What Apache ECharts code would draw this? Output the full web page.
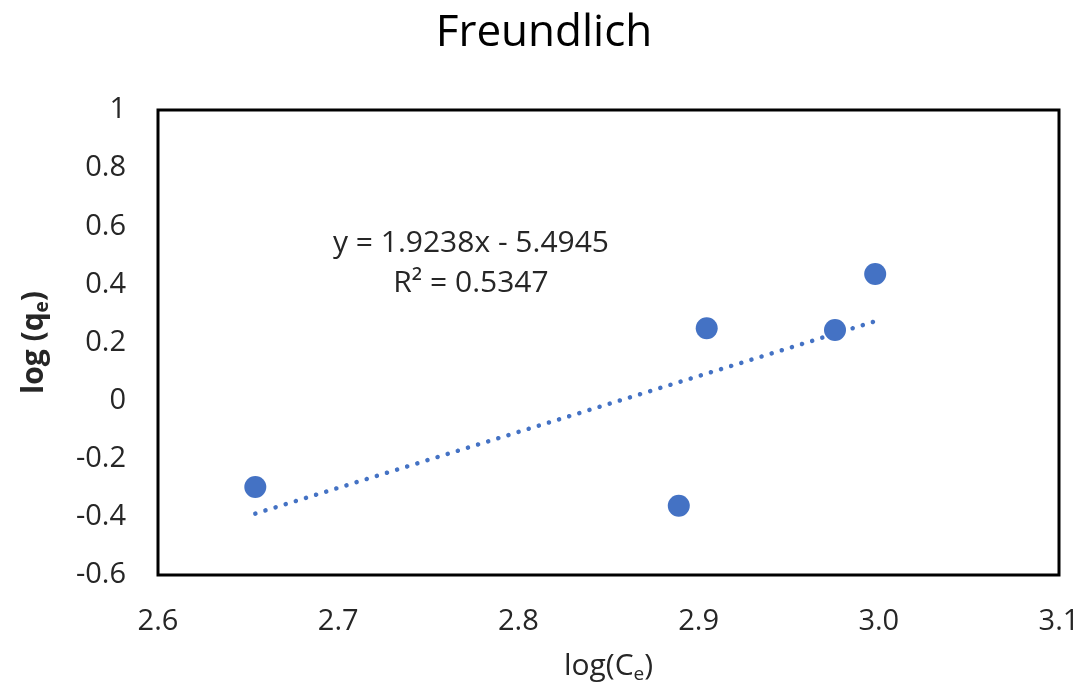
<!DOCTYPE html>
<html>
<head>
<meta charset="utf-8">
<script src="https://cdn.jsdelivr.net/npm/echarts@6/dist/echarts.min.js"></script>
<style>
  html, body { margin: 0; padding: 0; background: #fff; }
  #chart { width: 1088px; height: 697px; }
</style>
</head>
<body>
<div id="chart"></div>
<script>
// Freundlich isotherm: log(Ce) vs log(qe)
const logCe = [2.654, 2.889, 2.9045, 2.9757, 2.998];
const logQe = [-0.297, -0.362, 0.249, 0.243, 0.436];

// Linear fit reported on the chart
const slope = 1.9238;
const intercept = -5.4945;
const rSquared = 0.5347;

const xTicks = [2.6, 2.7, 2.8, 2.9, 3.0, 3.1];
const yTicks = [-0.6, -0.4, -0.2, 0, 0.2, 0.4, 0.6, 0.8, 1];

const FONT = '"Open Sans", "Liberation Sans", sans-serif';
const TEXT = '#262626';
const BLUE = '#4472C4';

const points = logCe.map((x, i) => [x, logQe[i]]);
const xMin = Math.min(...logCe), xMax = Math.max(...logCe);
const fitLine = [xMin, xMax].map(x => [x, slope * x + intercept]);

const chart = echarts.init(document.getElementById('chart'));
chart.setOption({
  backgroundColor: '#fff',
  animation: false,
  title: {
    text: 'Freundlich',
    left: 'center',
    top: 6,
    textStyle: { fontFamily: FONT, fontSize: 44, fontWeight: 'normal', color: '#000' }
  },
  grid: {
    left: 158, right: 29, top: 110, bottom: 122,
    outerBoundsMode: 'none',
    containLabel: false,
    show: true, borderColor: '#000', borderWidth: 3
  },
  xAxis: {
    type: 'value',
    min: xTicks[0], max: xTicks[xTicks.length - 1], interval: 0.1,
    axisLine: { show: false },
    axisTick: { show: false },
    splitLine: { show: false },
    axisLabel: {
      margin: 32, fontFamily: FONT, fontSize: 29, color: TEXT,
      formatter: v => v.toFixed(1)
    },
    name: '{a|log(C}{s|e}{a|)}',
    nameLocation: 'middle',
    nameGap: 74,
    nameTextStyle: {
      rich: {
        a: { fontFamily: FONT, fontSize: 30, color: TEXT },
        s: { fontFamily: FONT, fontSize: 19, color: TEXT, verticalAlign: 'bottom', padding: [16, 0, 0, 0] }
      }
    }
  },
  yAxis: {
    type: 'value',
    min: yTicks[0], max: yTicks[yTicks.length - 1], interval: 0.2,
    axisLine: { show: false },
    axisTick: { show: false },
    splitLine: { show: false },
    axisLabel: {
      margin: 32, fontFamily: FONT, fontSize: 29, color: TEXT,
      formatter: v => String(Math.round(v * 10) / 10)
    },
    name: '{a|log (q}{s|e}{a|)}',
    nameLocation: 'middle',
    nameGap: 106,
    nameTextStyle: {
      rich: {
        a: { fontFamily: FONT, fontSize: 30, fontWeight: 'bold', color: TEXT },
        s: { fontFamily: FONT, fontSize: 19, fontWeight: 'bold', color: TEXT, verticalAlign: 'bottom', padding: [16, 0, 0, 0] }
      }
    }
  },
  graphic: [
    {
      type: 'text', x: 471, y: 243,
      style: {
        text: 'y = ' + slope.toFixed(4) + 'x - ' + Math.abs(intercept).toFixed(4),
        fontFamily: FONT, fontSize: 30, fill: TEXT,
        textAlign: 'center', textVerticalAlign: 'middle'
      }
    },
    {
      type: 'text', x: 471, y: 283,
      style: {
        text: 'R² = ' + rSquared.toFixed(4),
        fontFamily: FONT, fontSize: 30, fill: TEXT,
        textAlign: 'center', textVerticalAlign: 'middle'
      }
    }
  ],
  series: [
    {
      name: 'Linear fit',
      type: 'line',
      data: fitLine,
      symbol: 'none',
      z: 2,
      lineStyle: { color: BLUE, width: 4.5, type: [0.1, 10.5], cap: 'round' }
    },
    {
      name: 'log(qe)',
      type: 'scatter',
      data: points,
      symbolSize: 22,
      z: 3,
      itemStyle: { color: BLUE, opacity: 1 }
    }
  ]
});
</script>
</body>
</html>
